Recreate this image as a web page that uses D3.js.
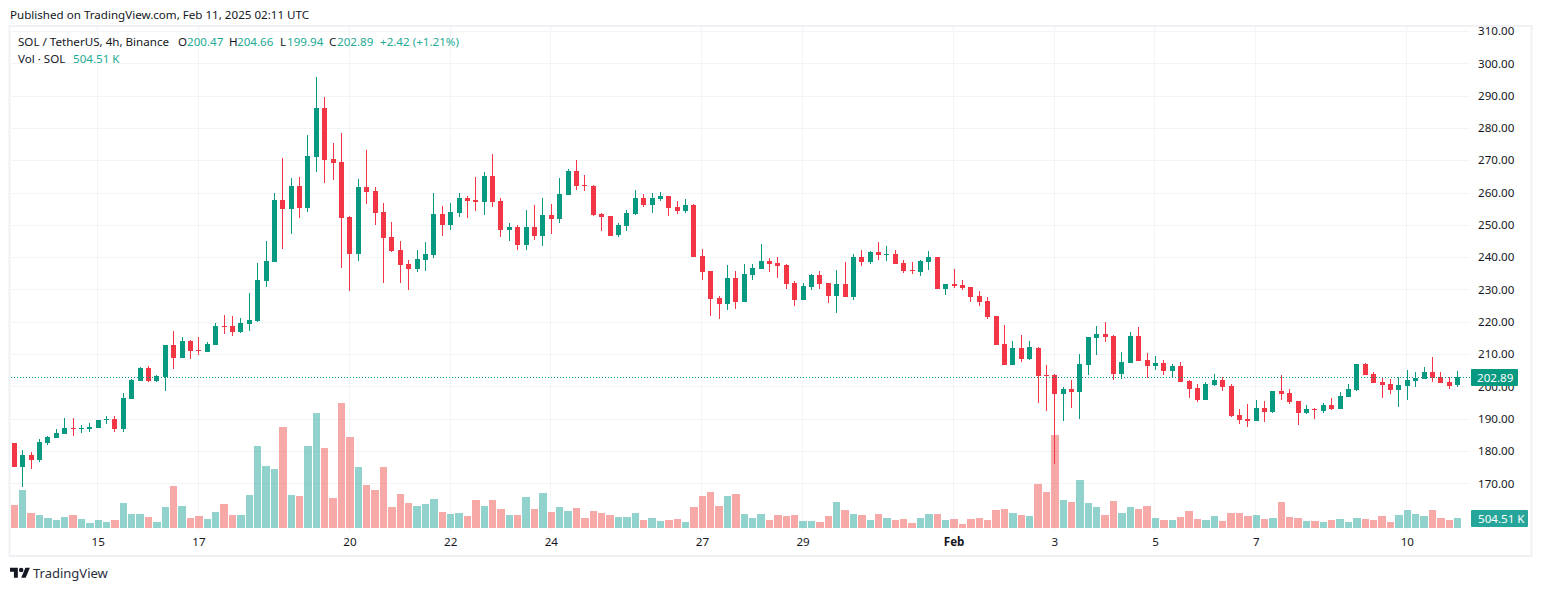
<!DOCTYPE html>
<html>
<head>
<meta charset="utf-8">
<script src="https://cdn.jsdelivr.net/npm/d3@7/dist/d3.min.js"></script>
<style>
    html, body { margin: 0; padding: 0; background: #fff; }
    svg { display: block; }
    text { font-family: "Noto Sans", sans-serif; font-size: 11.6px; fill: #131722; }
    .axis path { display: none; }
    .axis line { display: none; }
    .teal { fill: #22ab94; }
</style>
</head>
<body>
<div id="chart"></div>
<script>
// 4h candles, first one is Jan 13 08:00
const opens = [
    182.5,175,178.7,177.2,182.5,184,185.2,187.1,186.8,186.8,
    187.1,189.6,189.9,186.8,196.1,201.7,205.7,201.7,202.9,212.8,
    208.8,214,211.2,210.6,212.8,218.7,218.7,216.8,219.3,220.2,
    232.6,238.5,257.7,254.9,262,255.2,271,286.2,270.4,269.5,
    252.4,241,261.7,260.5,254,246.2,242.2,237.9,236.3,239.1,
    240.7,253.4,249.9,253.7,258.3,257.7,257.1,265.1,257.4,248.4,
    249.3,243.8,249.3,246.5,253,251.8,259.2,266.7,262.3,262,
    253.4,252.7,246.9,249.6,253.4,258.3,256.1,258,258.9,255.5,
    254.3,256.1,240.4,235.7,227.3,225.5,233.5,226.1,234.5,236.3,
    238.8,238.2,237.6,232,226.7,230.8,234.5,232,228,231.7,
    227.7,240,238.5,241.6,240.7,241,238.2,236,235.4,238.5,
    240,230.1,231.7,231.4,230.8,228,226.4,221.8,213.1,206.6,
    211.9,208.5,211.9,203.5,203.5,197.6,199.2,198.2,206.6,215,
    216.2,215.6,203.8,207.2,215.6,208.2,206.3,207.2,204.7,206.3,
    201.7,199.5,195.8,200.4,202,200.1,191.1,189.9,189.3,193.3,
    192.1,198.6,197.9,195.5,191.7,193,192.4,194.2,193,196.7,
    198.9,206.9,203.8,201.3,200.7,198.9,200.1,201.7,202.3,204.4,
    202.9,201.3,200.47
];
const highs = [
    182.5,180.3,179.7,183.7,184.6,186.8,190.2,190.2,188,188.6,
    189.6,190.8,190.8,197.9,202.3,206,206.3,203.5,212.8,217.1,
    215.3,214.3,215.3,213.7,219.6,222.1,221.8,221.2,228.9,238.2,
    245,259.9,270.7,264.5,264.8,277.8,295.8,289.6,275.3,278.4,
    252.7,264.2,273.2,261.7,256.8,250.9,245,239.1,242.2,244.7,
    259.9,255.8,256.8,259.9,258.9,264.8,266.4,271.9,258.3,250.6,
    249.9,254.6,256.1,258.3,256.4,264.5,267.3,270.1,265.4,262.3,
    253.7,252.7,250.6,254.6,260.8,259.5,259.9,260.2,258.9,257.4,
    258,256.4,242.5,235.7,228,237.6,235.7,237.9,237.9,244.1,
    239.7,240,237.9,232.6,232,234.8,235.7,232,236,238.5,
    241,242.2,241.9,244.7,243.4,242.2,239.1,238.5,239.1,241.9,
    240,231.7,236.3,232.9,230.8,229.5,227.7,221.8,219,214,
    215.9,214,212.2,206.6,203.8,199.8,202,210,215.3,218.7,
    219.9,215.9,210.6,216.8,218.4,210.3,209.4,208.2,206.9,207.5,
    202,200.7,201.3,203.8,202.9,200.7,193,194.5,195.8,195.5,
    198.6,203.5,199.2,195.5,194.2,193.3,194.8,196.4,198.2,200.7,
    206.9,207.2,204.4,202.9,202.3,202.9,205.1,204.4,206,209.1,
    204.4,202.9,204.66
];
const lows = [
    175,168.8,174.4,176.6,181.8,184,185.2,184.6,185.6,185.9,
    187.1,188.3,185.9,185.9,196.1,201.7,201.3,201.3,198.6,205.4,
    208.8,208.5,209.7,210.6,212.8,216.2,215.6,216.5,217.1,219.9,
    230.8,238.5,242.5,247.2,252.1,254,266.4,263,263.9,236.6,
    229.5,238.8,256.5,249.9,232,241.6,232,229.8,235.4,235.7,
    239.7,246.5,248.4,252.4,252.1,254.3,253,255.5,246.2,245,
    242.2,242.2,245.3,243.4,247.2,250.6,259.2,260.8,260.5,252.7,
    248.1,246.5,246.2,248.1,253,255.5,253.7,257.4,252.7,253.4,
    253.7,240,232.9,221.8,220.8,223.6,223.9,226.1,232.9,236.3,
    235.4,233.5,230.1,224.9,226.7,229.8,230.1,225.8,222.7,227.7,
    226.7,237.3,237.9,239.1,238.8,237.9,235.1,234.8,234.2,236,
    230.1,228.3,230.4,229.8,226.1,224.9,220.8,212.8,206.6,206.6,
    207.5,208.2,194.8,192.4,176,189.3,193.3,189.9,203.4,209.7,
    213.7,202,202.3,207.2,207.8,202.6,205.1,203.5,202.9,201.3,
    196.4,195.1,195.8,200.1,198.6,190.5,188.3,187.4,189.3,189,
    191.7,195.8,194.5,188,191.4,189.9,191.7,192.7,193,196.7,
    198.6,203.5,201,196.4,197.6,193.6,195.8,199.8,202.3,201.3,
    201,199.2,199.94
];
const closes = [
    175,178.7,177.2,182.8,184.3,185.6,187.1,186.8,187.1,187.4,
    189.6,189.9,186.8,196.4,202,205.7,201.7,203.2,212.8,208.8,
    214,210.9,210.9,213.1,218.7,218.4,216.8,219.6,220.5,232.9,
    238.8,257.7,254.9,262,255.2,271.3,286.2,270.1,269.1,252.1,
    241,261.7,260.2,253.7,245.9,241.9,237.6,236.3,239.4,241,
    253.4,249.9,254,258.3,257.4,257.1,265.1,257.1,248.4,249.3,
    243.8,249.3,246.5,253,251.8,259.5,266.7,262,262,253,
    252.4,246.7,249.9,253.7,258.3,256.1,258.3,258.9,255.2,254.3,
    256.1,240,235.4,227,225.5,233.5,226.1,234.8,236.6,238.8,
    237.9,237.3,231.7,226.7,231.1,234.5,231.7,228,231.7,227.7,
    240,238.5,241.6,240.7,241,237.9,235.7,235.7,238.8,240,
    230.1,231.7,231.1,230.4,227.7,226.1,221.5,212.8,206.6,211.9,
    208.5,212.2,203.2,203.2,197.6,199.2,198.2,206.9,215.3,216.2,
    215.3,203.8,207.5,215.6,207.8,206.3,207.2,204.7,206.3,201.3,
    199.2,195.8,200.7,202,199.8,190.8,189.6,189.3,193.3,192.1,
    198.6,197.6,195.1,191.7,193,192.7,194.2,193,197,199.2,
    206.9,203.5,201,200.4,198.9,200.4,202,202.6,204.4,202.6,
    201,200.1,202.89
];
// volume in thousands of SOL
const volumes = [
    1150,1900,750,650,500,400,550,650,450,250,
    400,300,400,1250,700,700,550,300,1050,2100,
    1100,500,600,450,800,1200,650,650,1650,4100,
    3100,2950,5050,1650,1600,4100,5750,4000,1500,6250,
    4550,3050,2150,1900,3050,1050,1700,1250,1100,1200,
    1450,800,700,750,600,1400,1100,1400,950,650,
    650,1550,950,1750,800,1050,850,1000,500,850,
    750,650,550,550,750,400,500,350,400,450,
    300,1050,1600,1800,1100,1600,1700,700,500,700,
    400,650,600,650,350,350,300,600,1300,900,
    700,650,400,700,500,400,450,250,500,700,
    700,400,450,200,450,500,400,900,950,750,
    650,600,2200,1800,4650,1400,1300,2400,1250,1050,
    650,1350,750,1050,950,1100,500,400,400,550,
    850,450,400,600,350,750,750,600,650,450,
    500,1300,550,500,350,350,300,400,450,300,
    500,450,400,600,300,650,900,700,600,900,
    500,400,504.51
];

const dayLabels = ["15", "17", "20", "22", "24", "27", "29", "Feb", "3", "5", "7", "10"];
const dayIndex = [10, 22, 40, 52, 64, 82, 94, 112, 124, 136, 148, 166];
const priceTicks = [170, 180, 190, 200, 210, 220, 230, 240, 250, 260, 270, 280, 290, 300, 310];
const lastPrice = 202.89;
const lastVolume = 504.51;

const svgWidth = 1542, svgHeight = 591;

// plot frame
const frame = { left: 10, top: 26, right: 1532, bottom: 556 };
const paneRight = 1471;

const upColor = "#089981", downColor = "#f23645";
const upVol = "#26a69a", downVol = "#ef5350";
const gridColor = "#f3f4f6";

const svg = d3.select("#chart")
    .append("svg")
    .attr("width", svgWidth)
    .attr("height", svgHeight);

// x runs on candle number, 8.39px apart
const x = d3.scaleLinear().domain([0, 172]).range([14.3, 1457.6]);
const y = d3.scaleLinear().domain([170, 310]).range([483.3, 31]);
const yVol = d3.scaleLinear().domain([0, 6250]).range([528, 403]);

const candleIdx = d3.range(opens.length);
const isUp = i => closes[i] >= opens[i];

svg.append("text").attr("x", 10).attr("y", 19).text("Published on TradingView.com, Feb 11, 2025 02:11 UTC");

svg.append("rect")
    .attr("x", frame.left - 0.5)
    .attr("y", frame.top)
    .attr("width", frame.right - frame.left)
    .attr("height", frame.bottom - frame.top)
    .attr("fill", "none")
    .attr("stroke", "#f0f1f4")
    .attr("stroke-width", 2);

// grid
svg.append("g").selectAll("line")
    .data(priceTicks)
    .enter()
    .append("line")
    .attr("x1", frame.left + 1)
    .attr("x2", paneRight - 1)
    .attr("y1", d => Math.round(y(d)) + 0.5)
    .attr("y2", d => Math.round(y(d)) + 0.5)
    .attr("stroke", gridColor);

svg.append("g").selectAll("line")
    .data(dayIndex)
    .enter()
    .append("line")
    .attr("x1", d => Math.floor(x(d) - 2.6) + 2.5)
    .attr("x2", d => Math.floor(x(d) - 2.6) + 2.5)
    .attr("y1", frame.top + 1)
    .attr("y2", 531)
    .attr("stroke", gridColor);

// volume bars go under the candles
const barLeft = i => Math.floor(x(i) - 3.2);

svg.append("g").selectAll("rect")
    .data(candleIdx)
    .enter()
    .append("rect")
    .attr("x", i => barLeft(i))
    .attr("width", i => barLeft(i + 1) - barLeft(i) - 1)
    .attr("y", i => Math.round(yVol(volumes[i])))
    .attr("height", i => 528 - Math.round(yVol(volumes[i])))
    .attr("fill", i => isUp(i) ? upVol : downVol)
    .attr("fill-opacity", 0.5);

// candles
const candles = svg.append("g").selectAll("g")
    .data(candleIdx)
    .enter()
    .append("g")
    .attr("fill", i => isUp(i) ? upColor : downColor);

const candleLeft = i => Math.round(x(i) - 2.5);

candles.append("rect")
    .attr("x", i => candleLeft(i) + 2)
    .attr("width", 1)
    .attr("y", i => Math.round(y(highs[i])))
    .attr("height", i => Math.max(1, Math.round(y(lows[i])) - Math.round(y(highs[i]))));

candles.append("rect")
    .attr("x", i => candleLeft(i))
    .attr("width", 5)
    .attr("y", i => Math.round(y(Math.max(opens[i], closes[i]))))
    .attr("height", i => Math.max(1, Math.round(y(Math.min(opens[i], closes[i]))) - Math.round(y(Math.max(opens[i], closes[i])))));

// last price dotted line
svg.append("line")
    .attr("x1", frame.left + 1)
    .attr("x2", paneRight)
    .attr("y1", Math.round(y(lastPrice)) + 0.5)
    .attr("y2", Math.round(y(lastPrice)) + 0.5)
    .attr("stroke", upColor)
    .attr("stroke-dasharray", "1 2");

// axes
const priceAxis = d3.axisRight(y)
    .tickValues(priceTicks)
    .tickFormat(d => d.toFixed(2))
    .tickSize(0)
    .tickPadding(0);

svg.append("g")
    .attr("class", "axis")
    .attr("transform", "translate(1478, 0)")
    .call(priceAxis)
    .attr("font-family", null)
    .attr("font-size", null);

const dayAxis = d3.axisBottom(x)
    .tickValues(dayIndex)
    .tickFormat((d, i) => dayLabels[i])
    .tickSize(0)
    .tickPadding(0);

svg.append("g")
    .attr("class", "axis")
    .attr("transform", "translate(-0.5, 537.5)")
    .call(dayAxis)
    .attr("font-family", null)
    .attr("font-size", null)
    .selectAll("text")
    .style("font-weight", (d, i) => dayLabels[i] === "Feb" ? "bold" : null);

// price and volume tags on the right
svg.append("rect").attr("x", 1471).attr("y", Math.round(y(lastPrice)) - 8).attr("width", 47).attr("height", 17).attr("rx", 1).attr("fill", upColor);
svg.append("text").attr("x", 1477).attr("y", y(lastPrice) + 4.5).style("fill", "#fff").text(lastPrice.toFixed(2));

svg.append("rect").attr("x", 1471).attr("y", 510).attr("width", 57).attr("height", 17).attr("rx", 1).attr("fill", "#26a69a");
svg.append("text").attr("x", 1478).attr("y", 522.5).style("fill", "#fff").text(lastVolume.toFixed(2) + " K");

// legend
const legendRow1 = [
    [18, "SOL / TetherUS, 4h, Binance", ""],
    [178, "O", ""], [187, "200.47", "teal"],
    [229, "H", ""], [237, "204.66", "teal"],
    [280, "L", ""], [287, "199.94", "teal"],
    [329, "C", ""], [337, "202.89", "teal"],
    [380, "+2.42 (+1.21%)", "teal"]
];
svg.append("g").selectAll("text")
    .data(legendRow1)
    .enter()
    .append("text")
    .attr("x", d => d[0])
    .attr("y", 46)
    .attr("class", d => d[2])
    .text(d => d[1]);

svg.append("text").attr("x", 18).attr("y", 63).text("Vol · SOL");
svg.append("text").attr("x", 73).attr("y", 63).attr("class", "teal").text(lastVolume.toFixed(2) + " K");

// TradingView logo
const logo = svg.append("g")
    .attr("transform", "translate(10, 565.5) scale(0.56)")
    .attr("fill", "#131722");
logo.append("path").attr("d", "M14 22H7V11H0V4h14v18zM28 22h-8l7.5-18h8L28 22z");
logo.append("circle").attr("cx", 20).attr("cy", 8).attr("r", 4);

svg.append("text").attr("x", 33).attr("y", 578).style("font-size", "13px").style("fill", "#2a2e39").text("TradingView");
</script>
</body>
</html>
